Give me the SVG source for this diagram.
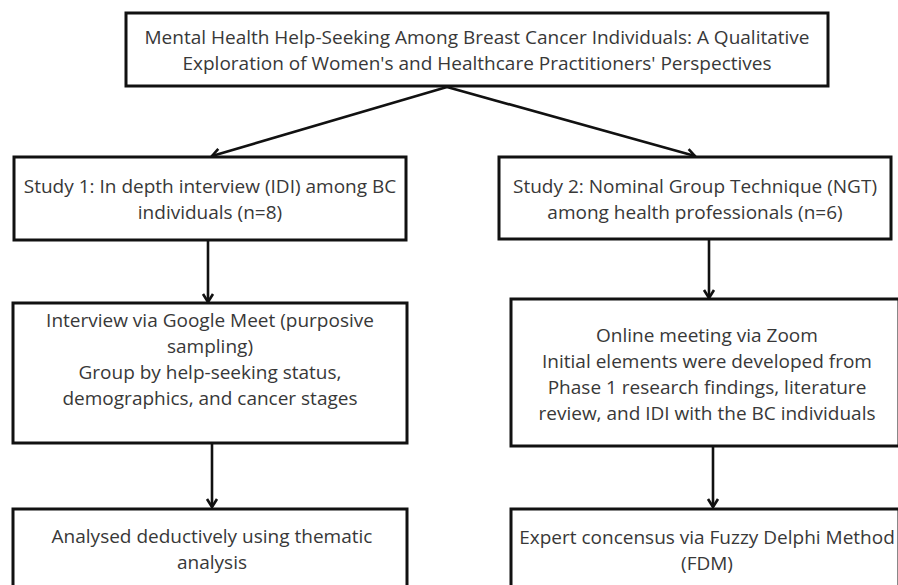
<svg xmlns="http://www.w3.org/2000/svg" width="898" height="585" viewBox="0 0 898 585">
<defs>
<style>
.box{fill:#fff;stroke:#111;stroke-width:3}
.t{font-family:"Open Sans","Liberation Sans",sans-serif;font-size:19px;fill:#383838;text-anchor:middle}
.c{fill:none;stroke:#111;stroke-width:2.6}
</style>
<marker id="ah" markerUnits="userSpaceOnUse" markerWidth="14" markerHeight="14" viewBox="0 0 14 14" refX="11" refY="7" orient="auto">
<path d="M3,2 L11,7 L3,12" fill="none" stroke="#111" stroke-width="2.6"/>
</marker>
</defs>
<rect width="898" height="585" fill="#fff"/>
<g id="connectors">
<line class="c" x1="447" y1="87" x2="212" y2="156" marker-end="url(#ah)"/>
<line class="c" x1="447" y1="87" x2="695" y2="156" marker-end="url(#ah)"/>
<line class="c" x1="208" y1="241" x2="208" y2="302" marker-end="url(#ah)"/>
<line class="c" x1="709" y1="240" x2="709" y2="298" marker-end="url(#ah)"/>
<line class="c" x1="212" y1="444" x2="212" y2="507" marker-end="url(#ah)"/>
<line class="c" x1="713" y1="447" x2="713" y2="507" marker-end="url(#ah)"/>
</g>
<g id="title">
<rect class="box" x="126" y="13" width="702" height="73"/>
<text class="t" x="477" y="44">Mental Health Help-Seeking Among Breast Cancer Individuals: A Qualitative</text>
<text class="t" x="477" y="70">Exploration of Women's and Healthcare Practitioners' Perspectives</text>
</g>
<g id="study1">
<rect class="box" x="14" y="157" width="392" height="83"/>
<text class="t" x="210" y="193">Study 1: In depth interview (IDI) among BC</text>
<text class="t" x="210" y="219">individuals (n=8)</text>
</g>
<g id="study2">
<rect class="box" x="499" y="157" width="392" height="82"/>
<text class="t" x="695" y="193">Study 2: Nominal Group Technique (NGT)</text>
<text class="t" x="695" y="219">among health professionals (n=6)</text>
</g>
<g id="interview">
<rect class="box" x="13" y="303" width="394" height="140"/>
<text class="t" x="210" y="327">Interview via Google Meet (purposive</text>
<text class="t" x="210" y="353">sampling)</text>
<text class="t" x="210" y="379">Group by help-seeking status,</text>
<text class="t" x="210" y="405">demographics, and cancer stages</text>
</g>
<g id="online">
<rect class="box" x="511" y="299" width="388" height="147"/>
<text class="t" x="707" y="342">Online meeting via Zoom</text>
<text class="t" x="707" y="368">Initial elements were developed from</text>
<text class="t" x="707" y="394">Phase 1 research findings, literature</text>
<text class="t" x="707" y="420">review, and IDI with the BC individuals</text>
</g>
<g id="analysed">
<rect class="box" x="13" y="509" width="394" height="90"/>
<text class="t" x="212" y="543">Analysed deductively using thematic</text>
<text class="t" x="212" y="569">analysis</text>
</g>
<g id="expert">
<rect class="box" x="511" y="509" width="388" height="90"/>
<text class="t" x="707" y="544">Expert concensus via Fuzzy Delphi Method</text>
<text class="t" x="707" y="570">(FDM)</text>
</g>
</svg>
